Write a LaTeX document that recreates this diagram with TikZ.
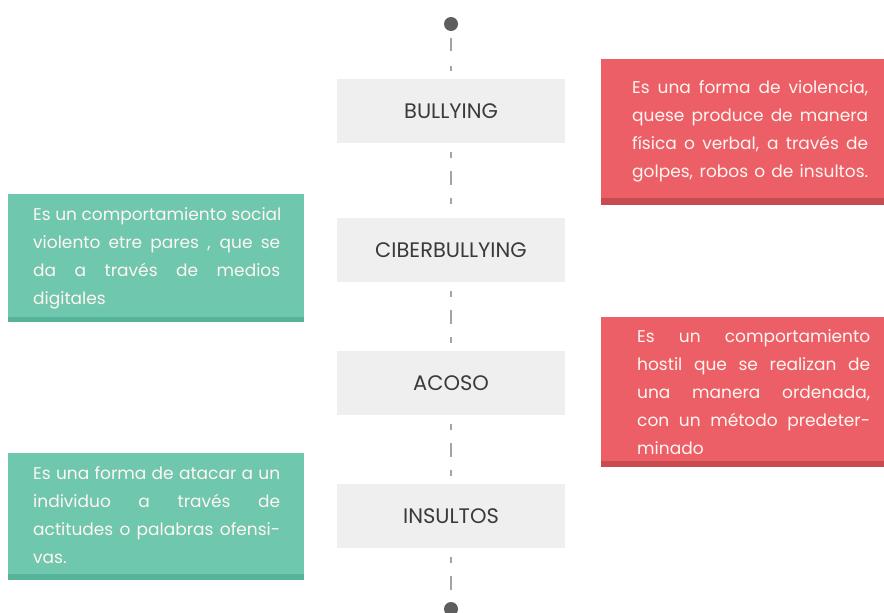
\documentclass[tikz,border=0pt]{standalone}
\usepackage{fontspec}
\setmainfont{Poppins}
\definecolor{boxgray}{HTML}{EFEFEF}
\definecolor{linegray}{HTML}{A4A4A4}
\definecolor{dotgray}{HTML}{5E5E5E}
\definecolor{termtext}{HTML}{3A3A3A}
\definecolor{redfill}{HTML}{EC5F67}
\definecolor{reddark}{HTML}{C84B4F}
\definecolor{greenfill}{HTML}{6FC7AD}
\definecolor{greendark}{HTML}{56B39A}
\definecolor{lighttext}{HTML}{FFF6F2}
\newlength\jw
\newcommand\jl[1]{\hbox to\jw{\spaceskip=\fontdimen2\font plus 1fil\relax #1}}
\newcommand\lastline[1]{\hbox{#1}}
\begin{document}
\begin{tikzpicture}[x=1pt,y=-1pt,
  term/.style={fill=boxgray, minimum width=228pt, minimum height=64pt, inner sep=0pt,
    text=termtext, font=\fontsize{21}{22}\selectfont},
  dotnode/.style={circle, fill=dotgray, minimum size=14pt, inner sep=0pt},
  conn/.style={draw=linegray, line width=1.3pt,
    dash pattern=on 0pt off 9pt on 6pt off 13pt on 14pt off 13pt on 6pt off 200pt},
  conntop/.style={draw=linegray, line width=1.3pt,
    dash pattern=on 0pt off 7pt on 13pt off 15pt on 5pt off 200pt},
  redbox/.style={fill=redfill, inner sep=0pt, anchor=north west},
  greenbox/.style={fill=greenfill, inner sep=0pt, anchor=north west},
  desc/.style={anchor=north west, inner sep=0pt, text=lighttext,
    font=\fontsize{17}{28}\selectfont}
]
\useasboundingbox (0,0) rectangle (884,613);

% timeline
\node[dotnode] (top) at (451,24) {};
\node[term] (b1) at (451,111) {BULLYING};
\node[term] (b2) at (451,250) {CIBERBULLYING};
\node[term] (b3) at (451,383) {ACOSO};
\node[term] (b4) at (451,516) {INSULTOS};
\node[dotnode] (bot) at (451,609) {};

\draw[conntop] (top) -- (b1);
\draw[conn] (b1) -- (b2);
\draw[conn] (b2) -- (b3);
\draw[conn] (b3) -- (b4);
\draw[conn] (b4) -- (bot);

% red box 1
\node[redbox, minimum width=283pt, minimum height=139pt] (r1) at (601,59) {};
\fill[reddark] (r1.south west) rectangle ([yshift=-7pt]r1.south east);
\node[desc, text width=236pt] (t1) at (632,80) {\jw=236pt
\jl{Es una forma de violencia,}
\jl{quese produce de manera}
\jl{física o verbal, a través de}
\jl{golpes, robos o de insultos.}};

% green box 1
\node[greenbox, minimum width=296pt, minimum height=123pt] (g1) at (8,194) {};
\fill[greendark] (g1.south west) rectangle ([yshift=-5pt]g1.south east);
\node[desc, text width=247pt] (t2) at (33,207) {\jw=247pt
\jl{Es un comportamiento social}
\jl{violento etre pares , que se}
\jl{da a través de medios}
\lastline{digitales}};

% red box 2
\node[redbox, minimum width=283pt, minimum height=144pt] (r2) at (601,317) {};
\fill[reddark] (r2.south west) rectangle ([yshift=-6pt]r2.south east);
\node[desc, text width=233pt] (t3) at (637,329) {\jw=233pt
\jl{Es un comportamiento}
\jl{hostil que se realizan de}
\jl{una manera ordenada,}
\jl{con un método predeter-}
\lastline{minado}};

% green box 2
\node[greenbox, minimum width=296pt, minimum height=121pt] (g2) at (8,453) {};
\fill[greendark] (g2.south west) rectangle ([yshift=-6pt]g2.south east);
\node[desc, text width=247pt] (t4) at (33,466) {\jw=247pt
\jl{Es una forma de atacar a un}
\jl{individuo a través de}
\jl{actitudes o palabras ofensi-}
\lastline{vas.}};
\end{tikzpicture}
\end{document}
